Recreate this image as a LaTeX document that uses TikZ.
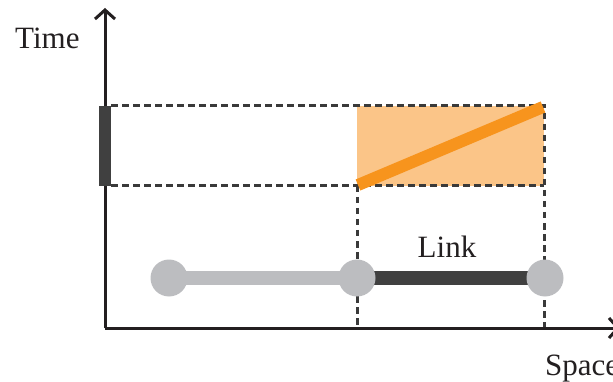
\documentclass[tikz,border=0pt]{standalone}
\usepackage{fontspec}
\setmainfont{Liberation Serif}
\usetikzlibrary{arrows.meta}
\definecolor{axisink}{HTML}{231F20}
\definecolor{guideink}{HTML}{3A3A3A}
\definecolor{slabfill}{HTML}{FBC588}
\definecolor{slabline}{HTML}{F7941D}
\definecolor{nodegray}{HTML}{BCBDC0}
\definecolor{linkdark}{HTML}{404040}
\tikzset{
  axisline/.style={draw=axisink, line width=3pt, -{Straight Barb[length=9pt,width=20pt,line width=3pt]}},
  guide/.style={draw=guideink, line width=3pt, dash pattern=on 6.5pt off 4.5pt},
  vertex/.style={circle, fill=nodegray, minimum size=37pt, inner sep=0pt},
  lbl/.style={font=\fontsize{31}{34}\selectfont, text=axisink, inner sep=0pt},
}
\begin{document}
\begin{tikzpicture}[x=1pt,y=-1pt]
\useasboundingbox (0,0) rectangle (613,382);
% key positions
\coordinate (o)  at (105,328);
\coordinate (t1) at (105,106);
\coordinate (t2) at (105,186);
\coordinate (ul) at (357,106);
\coordinate (ur) at (544,106);
\coordinate (ll) at (357,186);
\coordinate (lr) at (544,186);
\coordinate (s1) at (357,328);
\coordinate (s2) at (544,328);
\coordinate (ytip) at (105,8);
\coordinate (xtip) at (620,328);
% shaded space-time region
\fill[slabfill] (ul) rectangle (lr);
% dashed guides
\draw[guide] (111,106) -- (ur) -- (s2);
\draw[guide] (111,186) -- (lr);
\draw[guide] (ll) -- (s1);
% trajectory across the link
\draw[slabline, line width=12pt] (358,185) -- (543,107);
% axes
\draw[axisline] (o) -- (ytip);
\draw[axisline] (o) -- (xtip);
% time interval on the axis
\draw[linkdark, line width=12pt] (t1) -- (t2);
% network: links then vertices
\coordinate (a) at (169,278);
\coordinate (b) at (357,278);
\coordinate (c) at (545,278);
\draw[nodegray, line width=14pt] (a) -- (b);
\draw[linkdark, line width=14pt] (b) -- (c);
\node[vertex] (na) at (a) {};
\node[vertex] (nb) at (b) {};
\node[vertex] (nc) at (c) {};
% labels
\node[lbl, anchor=base west] (time) at (15,49) {Time};
\node[lbl, anchor=base west] (space) at (545,375) {Space};
\node[lbl, anchor=base] (link) at (447,257) {Link};
\end{tikzpicture}
\end{document}
